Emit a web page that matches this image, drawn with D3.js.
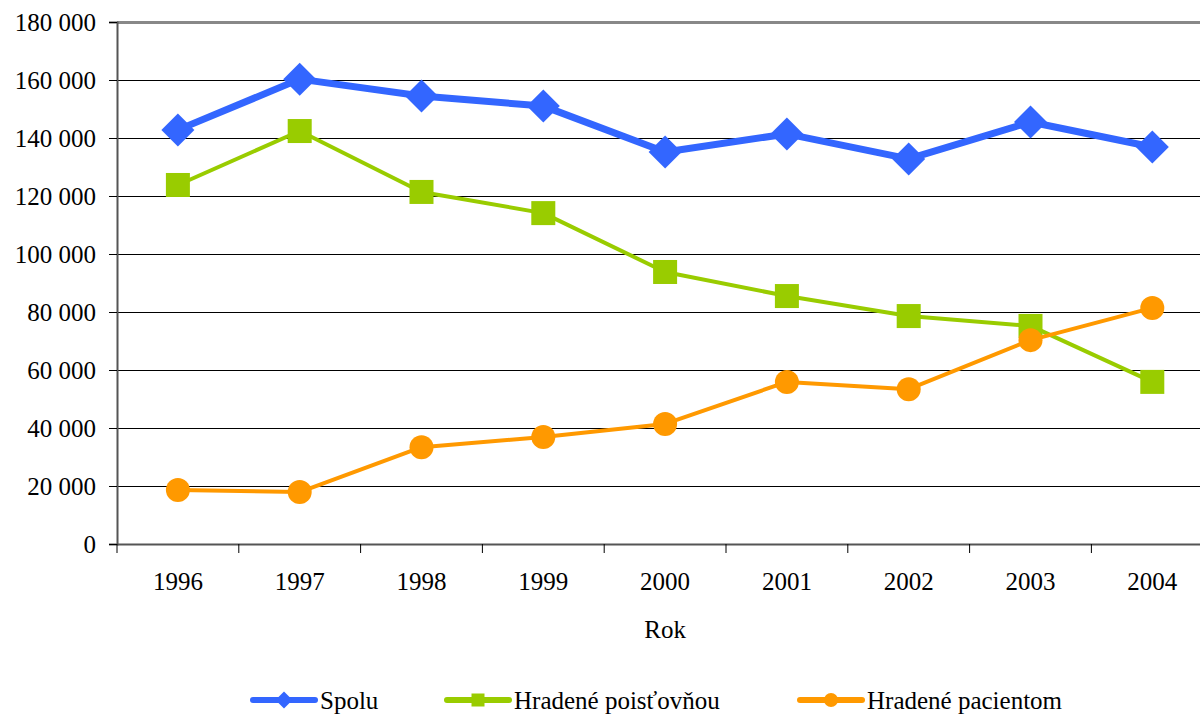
<!DOCTYPE html>
<html lang="sk">
<head>
<meta charset="utf-8">
<title>Spolu / Hradené</title>
<script src="https://cdn.jsdelivr.net/npm/d3@7"></script>
<style>
  body { margin: 0; background: #fff; }
  svg text { font-family: "Liberation Serif", "Times New Roman", Tinos, "DejaVu Serif", serif !important; fill: #000; }
</style>
</head>
<body>
<script>
const years = ["1996", "1997", "1998", "1999", "2000", "2001", "2002", "2003", "2004"];
const spolu = [142800, 160300, 154500, 151000, 135200, 141400, 132800, 145500, 136900];
const poistovnou = [123800, 142400, 121400, 114100, 93800, 85500, 78600, 75200, 55900];
const pacientom = [18600, 17900, 33400, 36900, 41400, 55900, 53400, 70300, 81400];
const yTicks = [0, 20000, 40000, 60000, 80000, 100000, 120000, 140000, 160000, 180000];

const w = 1200, h = 716;
const plotLeft = 117, plotTop = 22, plotBottom = 544, band = 121.8;
const serif = '"Liberation Serif", "Times New Roman", Tinos, "DejaVu Serif", serif';

const svg = d3.select("body").append("svg")
  .attr("width", w).attr("height", h);

const x = d3.scaleBand().domain(years).range([plotLeft, plotLeft + band * years.length]);
const y = d3.scaleLinear().domain([0, 180000]).range([plotBottom, plotTop]);

const fmt = d => d3.format(",")(d).replace(/,/g, " ");

// grid
svg.append("g").selectAll("line")
  .data(yTicks.filter(d => d > 0 && d < 180000))
  .enter().append("line")
  .attr("x1", plotLeft).attr("x2", w)
  .attr("y1", d => y(d) + 0.5).attr("y2", d => y(d) + 0.5)
  .attr("stroke", "#000").attr("stroke-width", 1);

// top border
svg.append("line")
  .attr("x1", plotLeft).attr("x2", w)
  .attr("y1", y(180000) + 0.5).attr("y2", y(180000) + 0.5)
  .attr("stroke", "#888").attr("stroke-width", 3);

// y axis
const yAxis = svg.append("g")
  .attr("transform", `translate(${plotLeft},0)`)
  .call(d3.axisLeft(y).tickValues(yTicks).tickFormat(fmt).tickSize(8).tickPadding(13));
yAxis.attr("font-family", null).attr("font-size", null);
yAxis.select(".domain").attr("stroke", "#555").attr("stroke-width", 2);
yAxis.selectAll(".tick line").attr("stroke", "#000");
yAxis.selectAll("text").style("font-size", "25px").style("font-family", serif).attr("fill", "#000");

// x axis
const xAxis = svg.append("g")
  .attr("transform", `translate(0,${plotBottom})`)
  .call(d3.axisBottom(x).tickSize(0).tickPadding(28));
xAxis.attr("font-family", null).attr("font-size", null);
xAxis.select(".domain").attr("stroke", "#555").attr("stroke-width", 2);
xAxis.selectAll("text").style("font-size", "25px").style("font-family", serif).attr("fill", "#000");
xAxis.selectAll(".sep")
  .data(d3.range(years.length + 1))
  .enter().append("line")
  .attr("x1", i => plotLeft + i * band).attr("x2", i => plotLeft + i * band)
  .attr("y1", 0).attr("y2", 9)
  .attr("stroke", "#000");

svg.append("text")
  .attr("x", x("2000") + x.bandwidth() / 2).attr("y", 638)
  .attr("text-anchor", "middle").style("font-size", "25px").style("font-family", serif)
  .text("Rok");

const series = [
  { name: "Spolu", values: spolu, color: "#3366FF", width: 7, shape: "diamond" },
  { name: "Hradené poisťovňou", values: poistovnou, color: "#99CC00", width: 4, shape: "square" },
  { name: "Hradené pacientom", values: pacientom, color: "#FF9900", width: 4, shape: "circle" }
];

const cx = d => x(d) + x.bandwidth() / 2;

function marker(g, shape, color, s) {
  if (shape === "diamond") {
    g.append("path").attr("d", `M0,${-s}L${s},0L0,${s}L${-s},0Z`).attr("fill", color);
  } else if (shape === "square") {
    g.append("rect").attr("x", -s).attr("y", -s).attr("width", 2 * s).attr("height", 2 * s).attr("fill", color);
  } else {
    g.append("circle").attr("r", s).attr("fill", color);
  }
}
const sizes = { diamond: 16.5, square: 12, circle: 12 };
const legSizes = { diamond: 8.5, square: 6.5, circle: 7 };

const line = d3.line().x((d, i) => cx(years[i])).y(d => y(d));

series.forEach(s => {
  svg.append("path")
    .datum(s.values)
    .attr("d", line)
    .attr("fill", "none")
    .attr("stroke", s.color)
    .attr("stroke-width", s.width)
    .attr("stroke-linejoin", "round");
  s.values.forEach((v, i) => {
    const g = svg.append("g").attr("transform", `translate(${cx(years[i])},${y(v)})`);
    marker(g, s.shape, s.color, sizes[s.shape]);
  });
});

// legend
const legX = [253, 447, 800];
series.forEach((s, i) => {
  const g = svg.append("g").attr("transform", `translate(${legX[i]},700)`);
  g.append("line").attr("x1", 0).attr("x2", 62).attr("y1", 0).attr("y2", 0)
    .attr("stroke", s.color).attr("stroke-width", 6).attr("stroke-linecap", "round");
  const m = g.append("g").attr("transform", "translate(31,0)");
  marker(m, s.shape, s.color, legSizes[s.shape]);
  g.append("text").attr("x", 67).attr("y", 9).style("font-size", "25px").style("font-family", serif).text(s.name);
});
</script>
</body>
</html>
